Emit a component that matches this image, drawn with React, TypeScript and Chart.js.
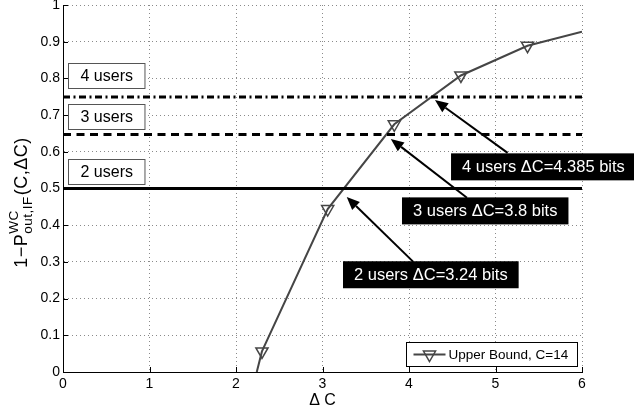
import React, { useEffect, useRef } from 'react';
import { Chart, registerables } from 'chart.js';

Chart.register(...registerables);

const FONT = '"Liberation Sans", Arial, Helvetica, sans-serif';

// Curve: Upper Bound, C=14
const curveX = [2.24, 2.30, 3.06, 3.83, 4.60, 5.37, 6.0];
const curveY = [0, 0.056, 0.444, 0.675, 0.808, 0.889, 0.927];
const markerOn = [false, true, true, true, true, true, false];
const legendLabel = 'Upper Bound, C=14';

// Axes
const xTicks = [0, 1, 2, 3, 4, 5, 6];
const yTicks = [0, 0.1, 0.2, 0.3, 0.4, 0.5, 0.6, 0.7, 0.8, 0.9, 1];
const xTitle = 'Δ C';

// Threshold lines (2, 3, 4 users)
const thresholdLevels = [0.5, 0.647, 0.749];
const thresholdDash = [[], [8, 5.5], [7, 3.5, 2, 3.5]];
const thresholdLabels = ['2 users', '3 users', '4 users'];
const thresholdLabelX = [0.058, 0.058, 0.058];
const thresholdLabelY = [0.545, 0.696, 0.808];

// Arrow annotations
const arrowTexts = ['2 users ΔC=3.24 bits', '3 users ΔC=3.8 bits', '4 users ΔC=4.385 bits'];
const arrowBoxX = [3.237, 3.919, 4.486];
const arrowBoxY = [0.265, 0.439, 0.559];
const arrowTailX = [4.05, 4.67, 5.14];
const arrowTailY = [0.30, 0.475, 0.597];
const arrowTipX = [3.28, 3.79, 4.30];
const arrowTipY = [0.477, 0.635, 0.741];

function drawTriangleDown(ctx: CanvasRenderingContext2D, x: number, y: number, r: number) {
  ctx.beginPath();
  ctx.moveTo(x, y + r);
  ctx.lineTo(x - 0.866 * r, y - 0.5 * r);
  ctx.lineTo(x + 0.866 * r, y - 0.5 * r);
  ctx.closePath();
  ctx.stroke();
}

function spacedWidth(ctx: CanvasRenderingContext2D, t: string, sp: number) {
  let w = 0;
  for (const ch of t) w += ctx.measureText(ch).width + sp;
  return w;
}

function drawSpaced(ctx: CanvasRenderingContext2D, t: string, x: number, y: number, sp: number) {
  let cx = x;
  for (const ch of t) {
    ctx.fillText(ch, cx, y);
    cx += ctx.measureText(ch).width + sp;
  }
  return cx;
}

export default function App() {
  const ref = useRef<HTMLCanvasElement>(null);

  useEffect(() => {
    document.body.style.margin = '0';
    const canvas = ref.current!;
    const pts = (xs: number[], ys: number[]) => xs.map((x, i) => ({ x, y: ys[i] }));

    const overlay = {
      id: 'overlay',
      afterDatasetsDraw(chart: any) {
        const ctx: CanvasRenderingContext2D = chart.ctx;
        const xs = chart.scales.x;
        const ys = chart.scales.y;
        const ca = chart.chartArea;
        ctx.save();

        // inward ticks
        ctx.strokeStyle = '#000';
        ctx.lineWidth = 1;
        ctx.beginPath();
        xTicks.forEach((v) => {
          const px = Math.round(xs.getPixelForValue(v)) + 0.5;
          ctx.moveTo(px, ca.bottom);
          ctx.lineTo(px, ca.bottom - 5);
        });
        yTicks.forEach((v) => {
          const py = Math.round(ys.getPixelForValue(v)) + 0.5;
          ctx.moveTo(ca.left, py);
          ctx.lineTo(ca.left + 5, py);
        });
        ctx.stroke();

        // threshold label boxes (white)
        ctx.font = `16px ${FONT}`;
        ctx.textBaseline = 'middle';
        ctx.textAlign = 'left';
        thresholdLabels.forEach((t, i) => {
          const w = ctx.measureText(t).width + 24;
          const h = 25;
          const l = Math.round(xs.getPixelForValue(thresholdLabelX[i])) + 0.5;
          const cy = ys.getPixelForValue(thresholdLabelY[i]);
          const top = Math.round(cy - h / 2) + 0.5;
          ctx.fillStyle = '#fff';
          ctx.fillRect(l, top, w, h);
          ctx.strokeStyle = '#555';
          ctx.lineWidth = 1;
          ctx.strokeRect(l, top, w, h);
          ctx.fillStyle = '#000';
          ctx.fillText(t, l + 12, cy + 1);
        });

        // arrow text boxes (black)
        ctx.font = `16.5px ${FONT}`;
        arrowTexts.forEach((t, i) => {
          const w = ctx.measureText(t).width + 22;
          const h = 27;
          const l = xs.getPixelForValue(arrowBoxX[i]);
          const cy = ys.getPixelForValue(arrowBoxY[i]);
          ctx.fillStyle = '#000';
          ctx.fillRect(l, cy - h / 2, w, h);
          ctx.fillStyle = '#fff';
          ctx.fillText(t, l + 11, cy + 1);
        });

        // arrows
        arrowTexts.forEach((_, i) => {
          const x0 = xs.getPixelForValue(arrowTailX[i]);
          const y0 = ys.getPixelForValue(arrowTailY[i]);
          const x1 = xs.getPixelForValue(arrowTipX[i]);
          const y1 = ys.getPixelForValue(arrowTipY[i]);
          const ang = Math.atan2(y1 - y0, x1 - x0);
          const L = 13;
          const W = 5.5;
          const bx = x1 - L * Math.cos(ang);
          const by = y1 - L * Math.sin(ang);
          ctx.strokeStyle = '#000';
          ctx.lineWidth = 2;
          ctx.beginPath();
          ctx.moveTo(x0, y0);
          ctx.lineTo(bx, by);
          ctx.stroke();
          ctx.fillStyle = '#000';
          ctx.beginPath();
          ctx.moveTo(x1, y1);
          ctx.lineTo(bx + W * Math.sin(ang), by - W * Math.cos(ang));
          ctx.lineTo(bx - W * Math.sin(ang), by + W * Math.cos(ang));
          ctx.closePath();
          ctx.fill();
        });

        // legend
        ctx.font = `13.5px ${FONT}`;
        const tw = ctx.measureText(legendLabel).width;
        const lw = 7 + 32 + 3 + tw + 9;
        const lh = 24;
        const lr = Math.round(ca.right - 5) + 0.5;
        const lb = Math.round(ca.bottom - 6) + 0.5;
        const ll = lr - Math.round(lw);
        const lt = lb - lh;
        ctx.fillStyle = '#fff';
        ctx.fillRect(ll, lt, lr - ll, lh);
        ctx.strokeStyle = '#000';
        ctx.lineWidth = 1;
        ctx.strokeRect(ll, lt, lr - ll, lh);
        const my = lt + lh / 2;
        ctx.strokeStyle = '#454545';
        ctx.lineWidth = 2;
        ctx.beginPath();
        ctx.moveTo(ll + 7, my);
        ctx.lineTo(ll + 39, my);
        ctx.stroke();
        ctx.lineWidth = 1.5;
        drawTriangleDown(ctx, ll + 23, my, 7);
        ctx.fillStyle = '#000';
        ctx.textBaseline = 'middle';
        ctx.fillText(legendLabel, ll + 42, my + 1);

        // x title
        ctx.font = `16px ${FONT}`;
        ctx.textAlign = 'center';
        ctx.fillText(xTitle, (ca.left + ca.right) / 2, 401);

        // y title with sub/superscripts
        const big = `18px ${FONT}`;
        const small = `13.5px ${FONT}`;
        const sp = 0.5;
        ctx.font = big;
        const p1 = '1−P';
        const p2 = '(C,ΔC)';
        const w1 = spacedWidth(ctx, p1, sp);
        const w2 = spacedWidth(ctx, p2, sp);
        ctx.font = small;
        const wsup = spacedWidth(ctx, 'WC', sp);
        const wsub = spacedWidth(ctx, 'out,IF', sp);
        const wmid = Math.max(wsup, wsub) + 1;
        const total = w1 + wmid + w2;
        ctx.translate(27, (ca.top + ca.bottom) / 2 + 14);
        ctx.rotate(-Math.PI / 2);
        ctx.textAlign = 'left';
        ctx.textBaseline = 'alphabetic';
        const s = -total / 2;
        ctx.font = big;
        drawSpaced(ctx, p1, s, 0, sp);
        drawSpaced(ctx, p2, s + w1 + wmid, 0, sp);
        ctx.font = small;
        drawSpaced(ctx, 'WC', s + w1, -9, sp);
        drawSpaced(ctx, 'out,IF', s + w1, 5, sp);

        ctx.restore();
      },
    };

    const chart = new Chart(canvas, {
      type: 'line',
      data: {
        datasets: [
          ...thresholdLevels.map((lv, i) => ({
            data: [{ x: 0, y: lv }, { x: 6, y: lv }],
            borderColor: '#000',
            borderWidth: 3,
            borderDash: thresholdDash[i],
            borderCapStyle: 'butt' as const,
            pointRadius: 0,
            fill: false,
          })),
          {
            data: pts(curveX, curveY),
            borderColor: '#454545',
            borderWidth: 2,
            pointRadius: markerOn.map((m) => (m ? 7 : 0)),
            pointStyle: 'triangle' as const,
            rotation: 180,
            pointRotation: 180,
            pointBorderColor: '#454545',
            pointBackgroundColor: 'rgba(0,0,0,0)',
            pointBorderWidth: 1.5,
            tension: 0,
            fill: false,
          },
        ],
      },
      options: {
        responsive: false,
        animation: false,
        events: [],
        layout: { padding: { left: 0, top: 5, right: 52, bottom: 0 } },
        plugins: { legend: { display: false }, tooltip: { enabled: false } },
        scales: {
          x: {
            type: 'linear',
            min: 0,
            max: 6,
            afterBuildTicks: (sc: any) => {
              sc.ticks = xTicks.map((v) => ({ value: v }));
            },
            afterFit: (sc: any) => {
              sc.height = 43;
              sc.paddingLeft = 0;
              sc.paddingRight = 0;
            },
            ticks: {
              color: '#000',
              font: { family: FONT, size: 14 },
              padding: 4,
              maxRotation: 0,
              autoSkip: false,
              callback: (v: any) => String(v),
            },
            grid: { color: '#8a8a8a', lineWidth: 1, drawTicks: false },
            border: { display: true, color: '#000', width: 1, dash: [1, 3] },
          },
          y: {
            type: 'linear',
            min: 0,
            max: 1,
            afterBuildTicks: (sc: any) => {
              sc.ticks = yTicks.map((v) => ({ value: v }));
            },
            afterFit: (sc: any) => {
              sc.width = 63;
              sc.paddingTop = 0;
              sc.paddingBottom = 0;
            },
            ticks: {
              color: '#000',
              font: { family: FONT, size: 14 },
              padding: 3,
              autoSkip: false,
              callback: (v: any) => (v === 0 ? '0' : v === 1 ? '1' : Number(v).toFixed(1)),
            },
            grid: { color: '#8a8a8a', lineWidth: 1, drawTicks: false },
            border: { display: true, color: '#000', width: 1, dash: [1, 3] },
          },
        },
      },
      plugins: [overlay],
    } as any);

    return () => chart.destroy();
  }, []);

  return (
    <div style={{ position: 'absolute', left: 0, top: 0, width: 634, height: 415, background: '#fff' }}>
      <canvas ref={ref} width={634} height={415} style={{ display: 'block' }} />
    </div>
  );
}
